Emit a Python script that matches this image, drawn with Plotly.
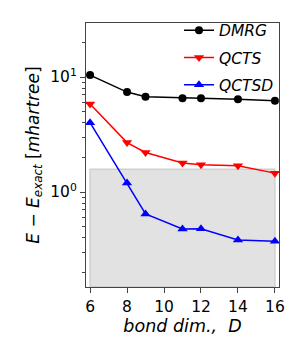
import plotly.graph_objects as go

bond_dims = [6, 8, 9, 11, 12, 14, 16]
dmrg = [10.4, 7.4, 6.75, 6.55, 6.53, 6.4, 6.22]
qcts = [5.82, 2.69, 2.21, 1.79, 1.73, 1.69, 1.46]
qctsd = [4.01, 1.2, 0.644, 0.477, 0.48, 0.383, 0.373]
shade_x = [6, 16]
shade_y = [0.15, 1.58]

x_ticks = [6, 8, 10, 12, 14, 16]
y_ticks = [1, 10]
y_ticktext = ["10<sup>0</sup>", "10<sup>1</sup>"]
y_minor = [0.2, 0.3, 0.4, 0.5, 0.6, 0.7, 0.8, 0.9, 2, 3, 4, 5, 6, 7, 8, 9, 20]

fig = go.Figure()
fig.add_shape(type="rect", xref="x", yref="y", x0=shade_x[0], x1=shade_x[1],
              y0=shade_y[0], y1=shade_y[1], fillcolor="#e2e2e2",
              line=dict(color="#d0d0d0", width=1.5), layer="below")

fig.add_trace(go.Scatter(x=bond_dims, y=dmrg, mode="lines+markers", name="<i>DMRG</i>",
                         legendgroup="a",
                         line=dict(color="black", width=1.5),
                         marker=dict(symbol="circle", size=8, color="black")))
fig.add_trace(go.Scatter(x=bond_dims, y=qcts, mode="lines+markers", name="<i>QCTS</i>",
                         legendgroup="b",
                         line=dict(color="red", width=1.5),
                         marker=dict(symbol="triangle-down", size=9, color="red")))
fig.add_trace(go.Scatter(x=bond_dims, y=qctsd, mode="lines+markers", name="<i>QCTSD</i>",
                         legendgroup="c",
                         line=dict(color="blue", width=1.5),
                         marker=dict(symbol="triangle-up", size=9, color="blue")))

fig.update_layout(
    width=300, height=352,
    margin=dict(l=78, r=29, t=15, b=73, autoexpand=False),
    plot_bgcolor="white", paper_bgcolor="white",
    font=dict(family="DejaVu Sans", size=15, color="black"),
    showlegend=True,
    legend=dict(x=1.0, y=1.035, xanchor="right", yanchor="top",
                bgcolor="rgba(0,0,0,0)", font=dict(size=15.5),
                itemwidth=30, tracegroupgap=4),
)
fig.update_xaxes(range=[5.78, 16.22], tickvals=x_ticks, ticks="outside", ticklen=5,
                 showline=True, linecolor="#444", linewidth=1.2, mirror=True,
                 tickcolor="#444",
                 showgrid=False, zeroline=False, automargin=False,
                 tickfont=dict(size=15.5),
                 title=dict(text="<i>bond dim., \u00a0D</i>", font=dict(size=17.5), standoff=2))
fig.update_yaxes(type="log", range=[-0.826, 1.47], tickvals=y_ticks, ticktext=y_ticktext,
                 ticks="outside", ticklen=5, automargin=False, tickcolor="#444",
                 tickfont=dict(size=15.5),
                 minor=dict(tickvals=y_minor, ticks="outside", ticklen=3, showgrid=False,
                            tickcolor="#444"),
                 showline=True, linecolor="#444", linewidth=1.2, mirror=True,
                 showgrid=False, zeroline=False,
                 title=dict(text="<i>E</i> − <i>E<sub>exact</sub></i> [<i>mhartree</i>]",
                            font=dict(size=17), standoff=6))

fig.write_html("out.html")
